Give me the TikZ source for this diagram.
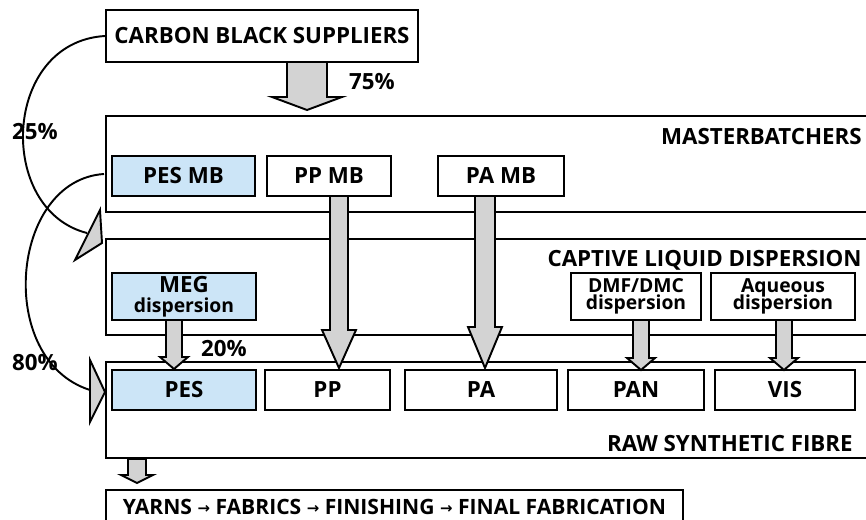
\documentclass[tikz,border=0pt]{standalone}
\usepackage{fontspec}
\setmainfont{Open Sans}
\newfontfamily\arrowfont{DejaVu Sans}
\newcommand\bigtxt{\bfseries\fontsize{12.7}{14}\selectfont}
\newcommand\smalltxt{\bfseries\fontsize{11}{11}\selectfont}
\newcommand\stepto{\raisebox{0.8pt}{\arrowfont\fontsize{8.5}{8.5}\selectfont →}}
% gray block arrow: x, top, tip, half shaft, half head, head length
\newcommand\fatarrow[6]{%
  \draw[fatarr] (#1-#4,#2) -- (#1+#4,#2) -- (#1+#4,#3-#6) -- (#1+#5,#3-#6)
    -- (#1,#3) -- (#1-#5,#3-#6) -- (#1-#4,#3-#6) -- cycle;}
\definecolor{mbblue}{HTML}{CCE5F7}
\definecolor{arrgray}{HTML}{D3D3D3}
\tikzset{
  wd/.style={minimum width=#1*0.02cm},
  ht/.style={minimum height=#1*0.02cm},
  box/.style={draw,line width=1.1pt,fill=white,inner sep=0pt,ht=40,font=\bigtxt},
  bluebox/.style={box,fill=mbblue},
  stage/.style={draw,line width=1.1pt,inner sep=0pt,ht=96,wd=800},
  stagelabel/.style={anchor=east,inner sep=0pt,font=\bigtxt},
  pct/.style={inner sep=0pt,font=\bigtxt},
  fatarr/.style={draw,line width=1.1pt,fill=arrgray,line join=miter},
  curve/.style={line width=1.1pt}
}
\begin{document}
\begin{tikzpicture}[x=0.02cm,y=-0.02cm]
\useasboundingbox (0,0) rectangle (866,520);
\clip (0,0) rectangle (866,520);
% stages
\node[stage] (mb) at (506,164) {};
\node[stage] (cld) at (506,287) {};
\node[stage] (rsf) at (506,410) {};
\node[stagelabel] (mblabel) at (862,137) {MASTERBATCHERS};
\node[stagelabel] (cldlabel) at (862,260) {CAPTIVE LIQUID DISPERSION};
\node[stagelabel] (rsflabel) at (853,444) {RAW SYNTHETIC FIBRE};
% supplier and final
\node[box,wd=312,ht=52] (cbs) at (262,36) {CARBON BLACK SUPPLIERS};
\node[box,wd=577,ht=34,font=\bfseries\fontsize{12}{14}\selectfont] (final) at (394.5,507)
  {YARNS \stepto{} FABRICS \stepto{} FINISHING \stepto{} FINAL FABRICATION};
% masterbatches
\node[bluebox,wd=143] (pesmb) at (183.5,176) {PES MB};
\node[box,wd=124] (ppmb) at (329,176) {PP MB};
\node[box,wd=126] (pamb) at (501,176) {PA MB};
% dispersions
\node[bluebox,wd=144,ht=47,align=center] (meg) at (184,296.5)
  {MEG\\[-2.5pt]{\smalltxt dispersion}};
\node[box,wd=130,ht=47,align=center,font=\smalltxt] (dmf) at (636,296.5)
  {DMF/DMC\\[-1pt]dispersion};
\node[box,wd=144,ht=47,align=center,font=\smalltxt] (aq) at (783,296.5)
  {Aqueous\\[-1pt]dispersion};
% fibres
\node[bluebox,wd=144] (pes) at (184,390) {PES};
\node[box,wd=125] (pp) at (327.5,390) {PP};
\node[box,wd=152] (pa) at (481,390) {PA};
\node[box,wd=136] (pan) at (636,390) {PAN};
\node[box,wd=140] (vis) at (785,390) {VIS};
% block arrows
\fatarrow{307}{62}{110}{20}{35}{13}
\fatarrow{339}{196}{368}{9}{17}{38}
\fatarrow{485}{196}{368}{10}{17}{41}
\fatarrow{174}{320}{369}{8}{14}{12}
\fatarrow{641}{320}{370}{8}{14}{12}
\fatarrow{784}{320}{370}{8}{14}{12}
\fatarrow{137}{459}{483}{9}{16}{8}
% side flows
\coordinate (tipa) at (87,233);
\coordinate (tipb) at (90,390);
\coordinate (startb) at (104,174);
\draw[curve] (cbs.west) .. controls (2,42) and (-4,210) .. (tipa);
\draw[fatarr] (100,210) -- (102,243) -- (75,260) -- cycle;
\draw[curve] (startb) .. controls (10,180) and (-5,360) .. (tipb);
\draw[fatarr] (90,360) -- (105,392) -- (90,422) -- cycle;
% shares
\node[pct] (p75) at (372,82) {75\%};
\node[pct] (p25) at (35,132) {25\%};
\node[pct] (p20) at (224,349) {20\%};
\node[pct] (p80) at (35,363) {80\%};
\end{tikzpicture}
\end{document}
